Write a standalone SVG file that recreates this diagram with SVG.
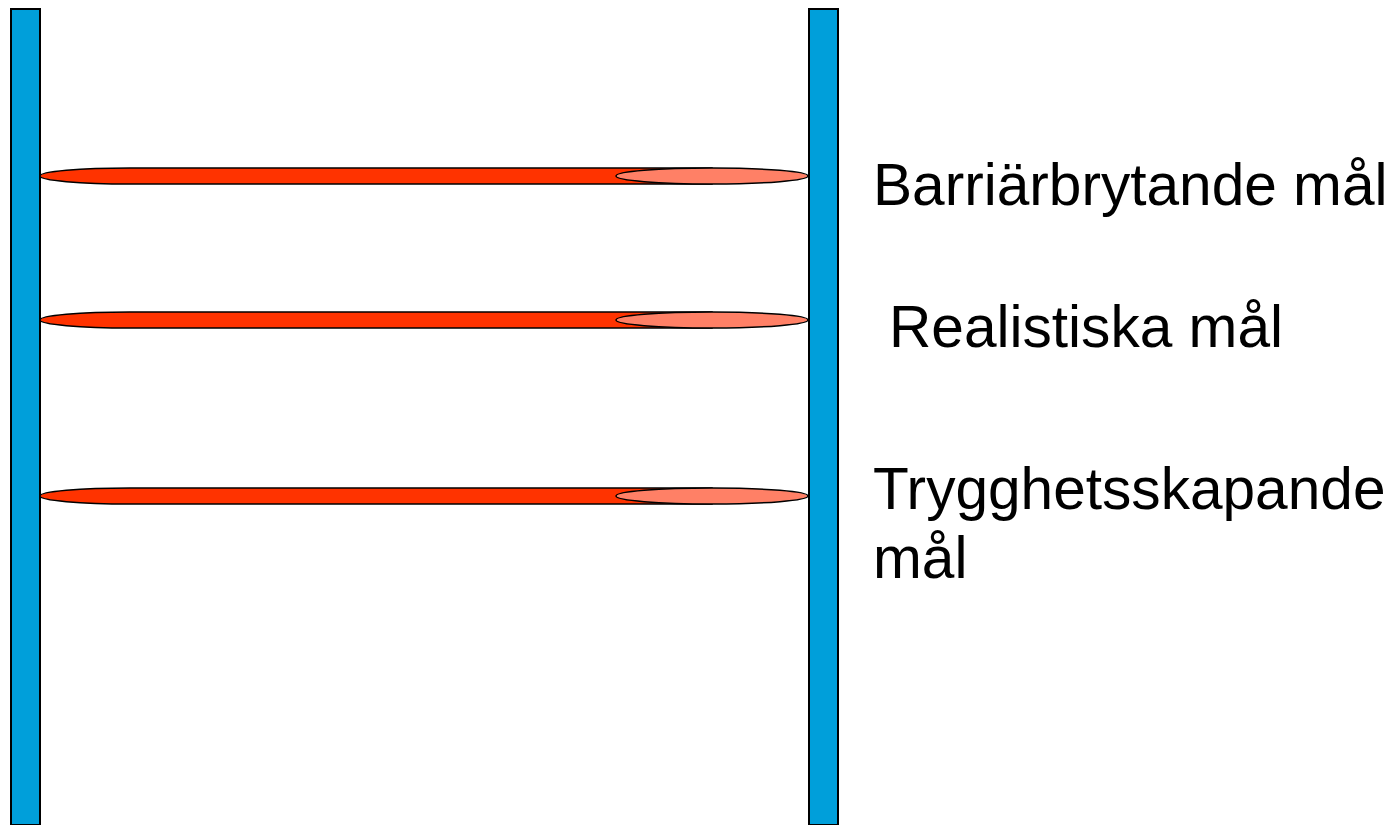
<svg xmlns="http://www.w3.org/2000/svg" width="1399" height="825" viewBox="0 0 1399 825">
<style>
.post{fill:#009fda;stroke:#000;stroke-width:2}
.bar{fill:#ff3300;stroke:#000;stroke-width:1.5}
.tip{fill:#ff8066;stroke:#000;stroke-width:1.5}
.lbl{font-family:"Liberation Sans",Arial,sans-serif;font-size:58.6px;fill:#000}
</style>
<rect width="1399" height="825" fill="#fff"/>
<g id="left-post"><rect class="post" x="11" y="9" width="29" height="816"/></g>
<g id="right-post"><rect class="post" x="809" y="9" width="29" height="816"/></g>
<g id="rungs">
<g id="rung1">
<path class="bar" d="M712,168 L130,168 A90,8 0 0 0 40,176 A90,8 0 0 0 130,184 L712,184 Z"/>
<ellipse class="tip" cx="712" cy="176" rx="96" ry="8"/>
</g>
<g id="rung2">
<path class="bar" d="M712,312 L130,312 A90,8 0 0 0 40,320 A90,8 0 0 0 130,328 L712,328 Z"/>
<ellipse class="tip" cx="712" cy="320" rx="96" ry="8"/>
</g>
<g id="rung3">
<path class="bar" d="M712,488 L130,488 A90,8 0 0 0 40,496 A90,8 0 0 0 130,504 L712,504 Z"/>
<ellipse class="tip" cx="712" cy="496" rx="96" ry="8"/>
</g>
</g>
<g id="label1"><text class="lbl" x="873" y="205">Barriärbrytande mål</text></g>
<g id="label2"><text class="lbl" x="889" y="347">Realistiska mål</text></g>
<g id="label3"><text class="lbl" x="873" y="509">Trygghetsskapande</text><text class="lbl" x="873" y="578">mål</text></g>
</svg>
